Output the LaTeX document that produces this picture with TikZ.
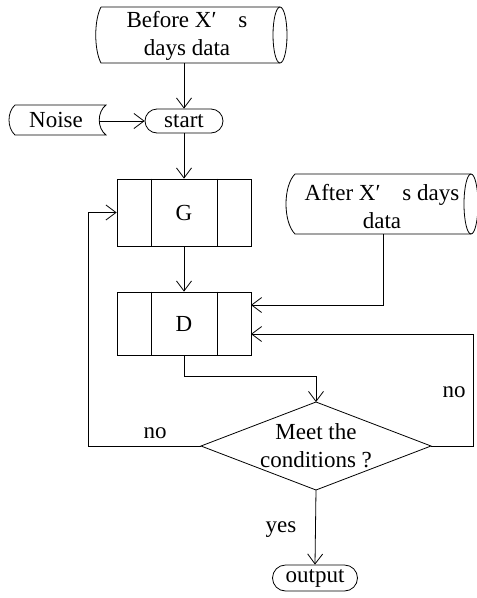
\documentclass[tikz,border=0pt]{standalone}
\usepackage{fontspec}
\setmainfont{Liberation Serif}
\usetikzlibrary{arrows.meta}

\begin{document}
\begin{tikzpicture}[x=1pt,y=-1pt,
  line width=0.8pt,
  every node/.style={font=\fontsize{23}{28}\selectfont, inner sep=0pt},
  flow/.style={draw, -{Straight Barb[length=10pt,width=15pt]}},
  terminal/.style={draw, rounded corners=12pt, minimum height=24pt},
  procbox/.style={draw, minimum width=134pt},
  label/.style={}
]
\useasboundingbox (0,0) rectangle (477,598);

% ---- stored data: Before X's days data (horizontal cylinder) ----
\draw (101,7) -- (280,7) (280,63) -- (101,63)
      .. controls (94,50) and (94,20) .. (101,7);
\draw (280,35) ellipse [x radius=7, y radius=28];
\node[align=center] (before) at (187,35.5) {Before X′\hspace{0.95em}s\\days data};
\coordinate (beforeout) at (184,63);

% ---- stored data: Noise ----
\draw (15,105) -- (106,105) .. controls (97,112) and (97,128) .. (106,135)
      -- (15,135) .. controls (7,128) and (7,112) .. (15,105);
\node (noise) at (56,120) {Noise};
\coordinate (noiseout) at (99.5,121);

% ---- start ----
\node[terminal, minimum width=78pt] (start) at (184,121) {start};

% ---- stored data: After X's days data ----
\draw (295,174) -- (471,174) (471,234) -- (295,234)
      .. controls (283,222) and (283,186) .. (295,174);
\draw (471,204) ellipse [x radius=7, y radius=30];
\node[align=center] (after) at (382,207) {After X′\hspace{0.95em}s days\\data};
\coordinate (afterout) at (383,234);

% ---- G and D process boxes ----
\node[procbox, minimum height=67pt] (G) at (184,212.5) {G};
\draw ([xshift=-33pt]G.north) -- ([xshift=-33pt]G.south)
      ([xshift=33pt]G.north) -- ([xshift=33pt]G.south);
\node[procbox, minimum height=63pt] (D) at (184,323.5) {D};
\draw ([xshift=-33pt]D.north) -- ([xshift=-33pt]D.south)
      ([xshift=33pt]D.north) -- ([xshift=33pt]D.south);
\coordinate (din1) at (251,305);
\coordinate (din2) at (251,334);

% ---- decision ----
\coordinate (dt) at (316,402);
\coordinate (dr) at (431,446);
\coordinate (db) at (316,490);
\coordinate (dl) at (201,446);
\draw (dt) -- (dr) -- (db) -- (dl) -- cycle;
\node[align=center] (cond) at (316,446) {Meet the\\conditions ?};

% ---- output ----
\node[terminal, minimum width=85pt, minimum height=26pt, rounded corners=13pt] (out) at (315,578) {output};

% ---- routing points ----
\coordinate (jd) at (184,376);
\coordinate (lloop) at (88,446);
\coordinate (rloop) at (473,446);

% ---- connectors ----
\draw[flow] (beforeout) -- (start.north);
\draw[flow] (noiseout) -- (start.west);
\draw[flow] (start.south) -- (G.north);
\draw[flow] (G.south) -- (D.north);
\draw[flow] (afterout) |- (din1);
\draw[flow] (D.south) -- (jd) -| (dt);
\draw[flow] (dl) -- (lloop) |- (G.west);
\draw[flow] (dr) -- (rloop) |- (din2);
\draw[flow] (db) -- (out.north);

% ---- branch labels ----
\node (nol) at (155,433) {no};
\node (nor) at (454,392) {no};
\node (yes) at (281,530) {yes};
\end{tikzpicture}
\end{document}
